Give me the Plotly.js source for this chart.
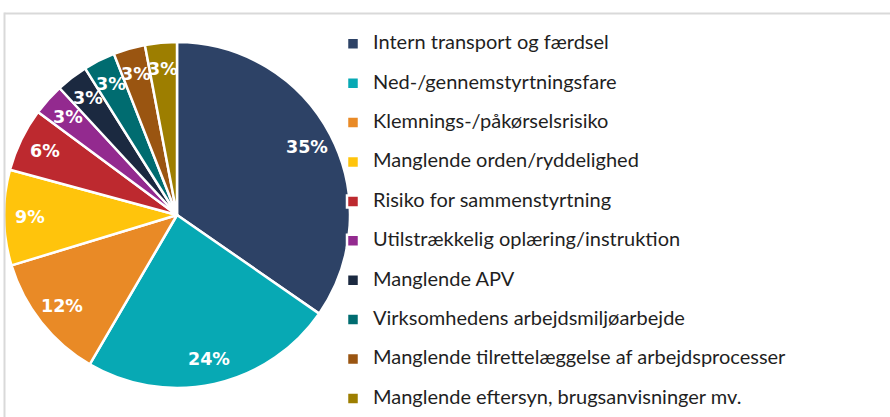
<!DOCTYPE html>
<html>
<head>
<meta charset="utf-8">
<script src="https://cdn.plot.ly/plotly-3.0.1.min.js"></script>
<style>html,body{margin:0;padding:0;background:#fff;}#chart{width:890px;height:417px;}</style>
</head>
<body>
<div id="chart"></div>
<script>
const categories = [
  "Intern transport og færdsel",
  "Ned-/gennemstyrtningsfare",
  "Klemnings-/påkørselsrisiko",
  "Manglende orden/ryddelighed",
  "Risiko for sammenstyrtning",
  "Utilstrækkelig oplæring/instruktion",
  "Manglende APV",
  "Virksomhedens arbejdsmiljøarbejde",
  "Manglende tilrettelæggelse af arbejdsprocesser",
  "Manglende eftersyn, brugsanvisninger mv."
];
const shares = [35, 24, 12, 9, 6, 3, 3, 3, 3, 3];
const colors = ["#2D4266", "#07A9B4", "#E98A26", "#FFC40C", "#BD292F", "#932A8F", "#1B2940", "#006C70", "#9A5511", "#9D7E00"];

const W = 890, H = 417;
const PIE_X0 = 4, PIE_X1 = 350, PIE_Y0 = 42, PIE_Y1 = 388; // pixel box of the pie
// blank first line + real text on second line gives the taller legend rows of the original
const legendLabels = categories.map(c => ' <br><span style="font-size:20px">' + c + '</span>');

const trace = {
  type: 'pie',
  labels: legendLabels,
  values: shares,
  sort: false,
  direction: 'clockwise',
  rotation: 0,
  marker: { colors: colors, line: { color: '#ffffff', width: 2.5 } },
  textinfo: 'none',
  hoverinfo: 'none',
  domain: { x: [PIE_X0 / W, PIE_X1 / W], y: [1 - PIE_Y1 / H, 1 - PIE_Y0 / H] }
};

// data labels placed near the outer part of each slice (Excel "best fit" look)
const cx = (PIE_X0 + PIE_X1) / 2, cy = (PIE_Y0 + PIE_Y1) / 2, R = (PIE_X1 - PIE_X0) / 2;
const total = shares.reduce((a, b) => a + b, 0);
let cum = 0;
const annotations = shares.map(v => {
  const mid = (cum + v / 2) / total * 2 * Math.PI;
  cum += v;
  const r = R * 0.85;
  const px = cx + r * Math.sin(mid), py = cy - r * Math.cos(mid);
  return {
    xref: 'paper', yref: 'paper', x: px / W, y: 1 - py / H,
    xanchor: 'center', yanchor: 'middle', showarrow: false,
    text: '<b>' + v + '%</b>',
    font: { family: '"DejaVu Sans", sans-serif', size: 17.5, color: '#ffffff' }
  };
});

const layout = {
  width: W, height: H,
  margin: { l: 0, r: 0, t: 0, b: 0 },
  paper_bgcolor: '#ffffff',
  showlegend: true,
  legend: {
    x: 333 / W, xanchor: 'left',
    y: 1 - 10 / H, yanchor: 'top',
    font: { family: 'Lato, sans-serif', size: 14, color: '#1f1f1f' },
    valign: 'bottom',
    bgcolor: 'rgba(0,0,0,0)'
  },
  annotations: annotations,
  shapes: [
    { type: 'line', xref: 'paper', yref: 'paper', x0: 4.5 / W, x1: 1, y0: 1 - 13.5 / H, y1: 1 - 13.5 / H, line: { color: '#d9d9d9', width: 2 } },
    { type: 'line', xref: 'paper', yref: 'paper', x0: 4.5 / W, x1: 4.5 / W, y0: 0, y1: 1 - 12.5 / H, line: { color: '#d9d9d9', width: 2 } }
  ]
};

Plotly.newPlot('chart', [trace], layout, { displayModeBar: false, staticPlot: true });
</script>
</body>
</html>
